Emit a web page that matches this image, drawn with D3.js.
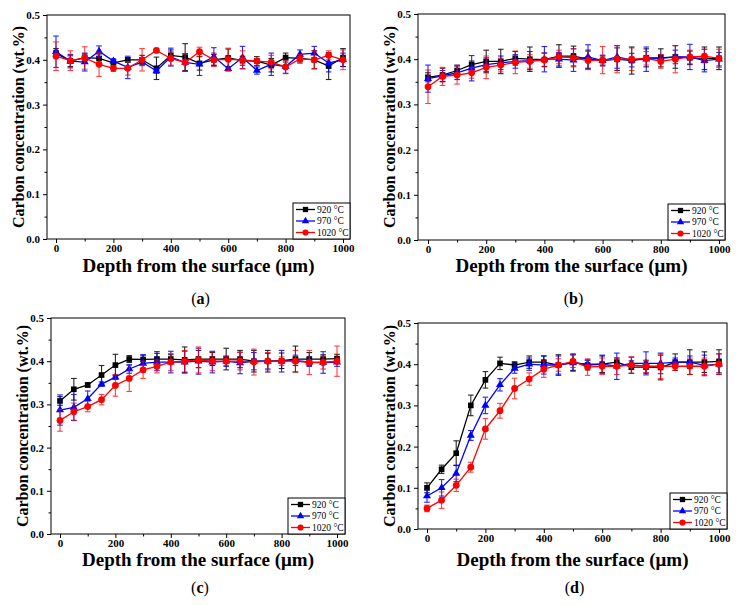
<!DOCTYPE html>
<html><head><meta charset="utf-8">
<script src="https://cdn.jsdelivr.net/npm/d3@7"></script>
<style>body{margin:0;background:#fff}svg{display:block}</style>
</head><body>
<svg id="c" width="742" height="605"></svg>
<script>
const depth = [0,50,100,150,200,250,300,350,400,450,500,550,600,650,700,750,800,850,900,950,1000];
const seriesLabels = ["920 \u00B0C","970 \u00B0C","1020 \u00B0C"];
const xTicks = [0,200,400,600,800,1000];
const yTicks = [0,0.1,0.2,0.3,0.4,0.5];
const panelLetters = ["a","b","c","d"];
const xTitle = "Depth from the surface (\u03BCm)";
const yTitle = "Carbon concentration (wt.%)";

// (a)
const a920 = [0.415,0.397,0.405,0.403,0.393,0.400,0.400,0.381,0.410,0.406,0.392,0.400,0.404,0.398,0.397,0.388,0.405,0.403,0.400,0.386,0.405];
const a920err = [0.010,0.012,0.008,0.010,0.008,0.005,0.010,0.025,0.012,0.030,0.015,0.012,0.020,0.010,0.010,0.015,0.010,0.008,0.020,0.030,0.020];
const a970 = [0.418,0.397,0.395,0.419,0.397,0.383,0.395,0.375,0.406,0.394,0.390,0.407,0.380,0.405,0.376,0.390,0.385,0.412,0.415,0.393,0.400];
const a970err = [0.035,0.015,0.020,0.012,0.005,0.025,0.008,0.005,0.020,0.020,0.025,0.020,0.005,0.025,0.008,0.025,0.015,0.010,0.015,0.020,0.015];
const a1020 = [0.408,0.398,0.404,0.390,0.381,0.381,0.400,0.421,0.403,0.394,0.418,0.400,0.401,0.400,0.397,0.395,0.384,0.402,0.400,0.410,0.400];
const a1020err = [0.032,0.022,0.025,0.027,0.007,0.015,0.025,0.003,0.015,0.020,0.010,0.015,0.025,0.020,0.005,0.015,0.015,0.010,0.020,0.010,0.022];
// (b)
const b920 = [0.360,0.365,0.375,0.388,0.395,0.395,0.402,0.400,0.399,0.407,0.407,0.400,0.397,0.400,0.397,0.403,0.403,0.405,0.403,0.402,0.402];
const b920err = [0.010,0.015,0.012,0.008,0.025,0.027,0.015,0.027,0.015,0.025,0.022,0.020,0.010,0.025,0.030,0.020,0.020,0.025,0.015,0.025,0.025];
const b970 = [0.357,0.363,0.370,0.380,0.388,0.392,0.395,0.397,0.400,0.400,0.398,0.405,0.397,0.405,0.398,0.400,0.402,0.405,0.405,0.397,0.400];
const b970err = [0.030,0.012,0.015,0.028,0.015,0.015,0.015,0.020,0.028,0.015,0.025,0.027,0.012,0.025,0.015,0.027,0.008,0.015,0.028,0.025,0.015];
const b1020 = [0.339,0.362,0.365,0.370,0.382,0.387,0.393,0.395,0.398,0.405,0.403,0.397,0.398,0.400,0.400,0.402,0.395,0.400,0.405,0.407,0.402];
const b1020err = [0.037,0.020,0.020,0.012,0.025,0.015,0.025,0.015,0.015,0.015,0.020,0.020,0.030,0.030,0.025,0.015,0.015,0.030,0.015,0.015,0.020];
// (c)
const c920 = [0.308,0.335,0.345,0.368,0.391,0.405,0.404,0.405,0.405,0.403,0.405,0.405,0.405,0.405,0.400,0.400,0.401,0.405,0.405,0.405,0.406];
const c920err = [0.010,0.025,0.005,0.022,0.025,0.008,0.010,0.017,0.010,0.030,0.020,0.015,0.025,0.020,0.025,0.025,0.018,0.030,0.015,0.010,0.010];
const c970 = [0.287,0.293,0.313,0.347,0.363,0.382,0.395,0.398,0.398,0.398,0.400,0.398,0.400,0.396,0.400,0.400,0.400,0.402,0.398,0.397,0.398];
const c970err = [0.035,0.030,0.018,0.005,0.005,0.010,0.020,0.020,0.025,0.025,0.030,0.025,0.012,0.025,0.020,0.018,0.025,0.012,0.010,0.025,0.010];
const c1020 = [0.263,0.283,0.295,0.311,0.344,0.360,0.380,0.388,0.398,0.400,0.403,0.400,0.400,0.400,0.398,0.400,0.400,0.400,0.397,0.397,0.400];
const c1020err = [0.025,0.020,0.012,0.012,0.025,0.030,0.020,0.015,0.020,0.025,0.030,0.022,0.010,0.020,0.030,0.020,0.010,0.025,0.028,0.015,0.035];
// (d)
const d920 = [0.100,0.145,0.184,0.300,0.362,0.402,0.398,0.405,0.405,0.398,0.405,0.398,0.400,0.405,0.393,0.393,0.392,0.405,0.405,0.405,0.407];
const d920err = [0.012,0.010,0.030,0.025,0.020,0.015,0.008,0.015,0.015,0.025,0.020,0.012,0.020,0.010,0.015,0.015,0.030,0.020,0.030,0.025,0.028];
const d970 = [0.080,0.100,0.135,0.227,0.300,0.350,0.390,0.400,0.398,0.398,0.403,0.400,0.400,0.395,0.402,0.402,0.402,0.405,0.405,0.397,0.400];
const d970err = [0.015,0.020,0.020,0.012,0.020,0.015,0.012,0.015,0.022,0.022,0.020,0.010,0.022,0.032,0.015,0.028,0.025,0.010,0.015,0.025,0.025];
const d1020 = [0.050,0.070,0.106,0.150,0.243,0.287,0.341,0.364,0.388,0.398,0.407,0.393,0.395,0.395,0.398,0.395,0.395,0.395,0.395,0.395,0.400];
const d1020err = [0.008,0.020,0.015,0.012,0.025,0.018,0.025,0.015,0.020,0.015,0.015,0.020,0.020,0.020,0.020,0.015,0.030,0.010,0.020,0.020,0.025];

const panelData = [
  [[a920,a920err],[a970,a970err],[a1020,a1020err]],
  [[b920,b920err],[b970,b970err],[b1020,b1020err]],
  [[c920,c920err],[c970,c970err],[c1020,c1020err]],
  [[d920,d920err],[d970,d970err],[d1020,d1020err]]
];

// layout (pixel geometry, kept out of the data)
const layout = [
  {l:47, t:15, r:350, b:239, x0:56, x1:343, ytx:18, capY:298, titleY:272},
  {l:418,t:14, r:725, b:240, x0:428,x1:719, ytx:389,capY:298, titleY:272},
  {l:51, t:318,r:345, b:534, x0:60, x1:337, ytx:22, capY:587, titleY:566},
  {l:418,t:323,r:727, b:529, x0:427,x1:719, ytx:389,capY:587, titleY:566}
];
const colors = ["#000000","#0000ff","#ff0000"];
const serif = "'Liberation Serif','Times New Roman',serif";

const svg = d3.select("#c");

layout.forEach((L, pi) => {
  const x = d3.scaleLinear().domain([0,1000]).range([L.x0, L.x1]);
  const y = d3.scaleLinear().domain([0,0.5]).range([L.b, L.t]);
  const g = svg.append("g");

  g.append("rect").attr("x",L.l).attr("y",L.t).attr("width",L.r-L.l).attr("height",L.b-L.t)
    .attr("fill","none").attr("stroke","#000").attr("stroke-width",1);

  const xAxis = d3.axisBottom(x).tickValues(xTicks).tickSize(4).tickSizeOuter(0).tickFormat(d3.format("d"));
  const gx = g.append("g").attr("transform",`translate(0,${L.b})`).call(xAxis);
  gx.select(".domain").remove();
  const xMinor = d3.axisBottom(x).tickValues([100,300,500,700,900]).tickSize(2.5).tickFormat("");
  const gxm = g.append("g").attr("transform",`translate(0,${L.b})`).call(xMinor);
  gxm.select(".domain").remove();
  gx.selectAll("text").attr("font-family",serif).attr("font-weight","bold").attr("font-size",11).attr("fill","#000").attr("y",5).attr("dy","0.71em");

  const yAxis = d3.axisLeft(y).tickValues(yTicks).tickSize(4).tickFormat(d3.format(".1f"));
  const gy = g.append("g").attr("transform",`translate(${L.l},0)`).call(yAxis);
  gy.select(".domain").remove();
  const yMinor = d3.axisLeft(y).tickValues([0.05,0.15,0.25,0.35,0.45]).tickSize(2.5).tickFormat("");
  const gym = g.append("g").attr("transform",`translate(${L.l},0)`).call(yMinor);
  gym.select(".domain").remove();
  gy.selectAll("text").attr("font-family",serif).attr("font-weight","bold").attr("font-size",11).attr("fill","#000");

  g.append("text").attr("x",(L.l+L.r)/2).attr("y",L.titleY)
    .attr("text-anchor","middle").attr("font-family",serif).attr("font-weight","bold").attr("font-size",19).text(xTitle);
  g.append("text").attr("transform",`translate(${L.ytx},${(L.t+L.b)/2}) rotate(-90)`)
    .attr("text-anchor","middle").attr("dy","0.35em").attr("font-family",serif).attr("font-weight","bold").attr("font-size",16).text(yTitle);

  const cap = g.append("text").attr("x",(L.l+L.r)/2+2).attr("y",L.capY).attr("dy","0.35em")
    .attr("text-anchor","middle").attr("font-family",serif).attr("font-size",16);
  cap.append("tspan").text("(");
  cap.append("tspan").attr("font-weight","bold").text(panelLetters[pi]);
  cap.append("tspan").text(")");

  panelData[pi].forEach(([vals, errs], si) => {
    const col = colors[si];
    const pts = depth.map((d,i) => ({x:d, y:vals[i], e:errs[i]}));
    const eg = g.append("g").attr("stroke",col).attr("stroke-width",1.1).attr("opacity",si===2?0.75:0.85);
    pts.forEach(p => {
      const px = x(p.x), yt = y(p.y+p.e), yb = y(p.y-p.e);
      eg.append("line").attr("x1",px).attr("x2",px).attr("y1",yt).attr("y2",yb);
      eg.append("line").attr("x1",px-2.8).attr("x2",px+2.8).attr("y1",yt).attr("y2",yt);
      eg.append("line").attr("x1",px-2.8).attr("x2",px+2.8).attr("y1",yb).attr("y2",yb);
    });
    g.append("path").datum(pts)
      .attr("d", d3.line().x(p=>x(p.x)).y(p=>y(p.y)))
      .attr("fill","none").attr("stroke",col).attr("stroke-width",1.3);
    const sym = [d3.symbolSquare, d3.symbolTriangle, d3.symbolCircle][si];
    const size = [32, 28, 36][si];
    g.selectAll(null).data(pts).enter().append("path")
      .attr("transform", p => `translate(${x(p.x)},${y(p.y)})`)
      .attr("d", d3.symbol().type(sym).size(size))
      .attr("fill",col);
  });

  const lw = 57, lh = 36;
  const lx = L.r - lw, ly = L.b - lh;
  const lg = g.append("g");
  lg.append("rect").attr("x",lx).attr("y",ly).attr("width",lw).attr("height",lh)
    .attr("fill","#fff").attr("stroke","#000").attr("stroke-width",1);
  seriesLabels.forEach((lab, si) => {
    const cy = ly + 6.5 + si*11.5;
    lg.append("line").attr("x1",lx+3).attr("x2",lx+22).attr("y1",cy).attr("y2",cy)
      .attr("stroke",colors[si]).attr("stroke-width",1.3);
    lg.append("path").attr("transform",`translate(${lx+12.5},${cy})`)
      .attr("d", d3.symbol().type([d3.symbolSquare, d3.symbolTriangle, d3.symbolCircle][si]).size([28,24,30][si]))
      .attr("fill",colors[si]);
    lg.append("text").attr("x",lx+24).attr("y",cy).attr("dy","0.35em")
      .attr("font-family",serif).attr("font-size",9.5).attr("fill","#000").text(lab);
  });
});
</script>
</body></html>
